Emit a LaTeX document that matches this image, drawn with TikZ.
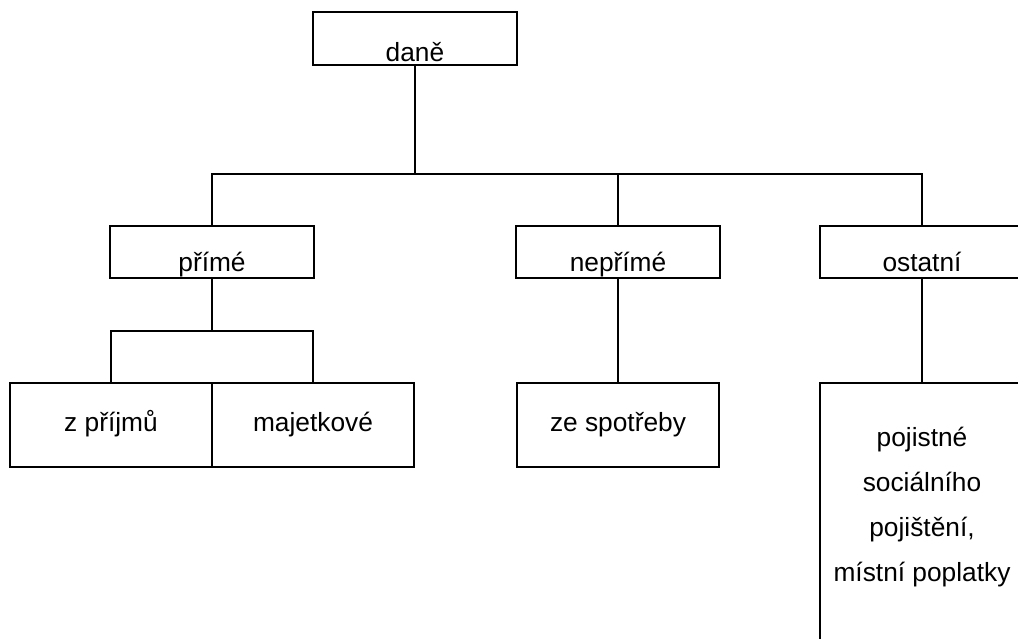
\documentclass[tikz,border=0pt]{standalone}
\usepackage{fontspec}
\setmainfont{Liberation Sans}
\begin{document}
\begin{tikzpicture}[x=1pt,y=-1pt,
  box/.style={draw=black,line width=2.5pt,rectangle,inner sep=0pt,outer sep=0pt},
  lbl/.style={inner sep=0pt,anchor=base,font=\fontsize{26.3}{30}\selectfont,text=black},
  conn/.style={draw=black,line width=2.5pt}]
\useasboundingbox (0,0) rectangle (1018,639);
\clip (0,0) rectangle (1018,639);
% boxes
\node[box,minimum width=204pt,minimum height=53pt] (dane) at (415,38.5) {};
\node[box,minimum width=204pt,minimum height=52pt] (prime) at (212,252) {};
\node[box,minimum width=204pt,minimum height=52pt] (neprime) at (618,252) {};
\node[box,minimum width=204pt,minimum height=52pt] (ostatni) at (922,252) {};
\node[box,minimum width=202pt,minimum height=84pt] (zprijmu) at (111,425) {};
\node[box,minimum width=202pt,minimum height=84pt] (majetkove) at (313,425) {};
\node[box,minimum width=202pt,minimum height=84pt] (spotreby) at (618,425) {};
\node[box,minimum width=204pt,minimum height=300pt] (pojistne) at (922,533) {};
% labels
\node[lbl] (tdane) at (415,62) {daně};
\node[lbl] (tprime) at (212,272) {přímé};
\node[lbl] (tneprime) at (618,272) {nepřímé};
\node[lbl] (tostatni) at (922,272) {ostatní};
\node[lbl] (tzprijmu) at (111,431) {z příjmů};
\node[lbl] (tmajetkove) at (313,431) {majetkové};
\node[lbl] (tspotreby) at (618,431) {ze spotřeby};
\node[lbl,align=center,font=\fontsize{26.3}{45}\selectfont] (tpojistne) at (922,581) {pojistné\\sociálního\\pojištění,\\místní poplatky};
% connectors
\coordinate (b1) at (415,174);
\coordinate (b2) at (212,331);
\draw[conn] (dane.south) -- (b1);
\draw[conn] (prime.north) |- (b1);
\draw[conn] (ostatni.north) |- (b1);
\draw[conn] (neprime.north) -- (neprime.north |- b1);
\draw[conn] (prime.south) -- (b2);
\draw[conn] (zprijmu.north) |- (b2);
\draw[conn] (majetkove.north) |- (b2);
\draw[conn] (neprime.south) -- (spotreby.north);
\draw[conn] (ostatni.south) -- (pojistne.north);
\end{tikzpicture}
\end{document}
